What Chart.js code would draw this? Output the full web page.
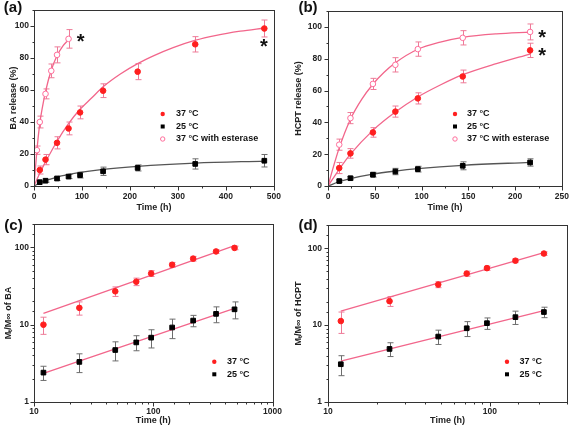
<!DOCTYPE html>
<html><head><meta charset="utf-8">
<script src="https://cdn.jsdelivr.net/npm/chart.js@4.4.0/dist/chart.umd.min.js"></script>
<style>
html,body{margin:0;padding:0;background:#fff;width:575px;height:429px;overflow:hidden}
canvas{position:absolute}
</style></head><body>
<canvas id="ca" width="287" height="214" style="left:0;top:0"></canvas>
<canvas id="cb" width="288" height="214" style="left:287px;top:0"></canvas>
<canvas id="cc" width="287" height="215" style="left:0;top:214px"></canvas>
<canvas id="cd" width="288" height="215" style="left:287px;top:214px"></canvas>
<script>
// ---------- data ----------
const legendLabels = ['37 °C', '25 °C', '37 °C with esterase'];
// BA release (panel a / c)
const timeBA = [12, 24, 48, 72, 96, 144, 216, 336, 480];
const baRel37 = [10, 16.5, 27, 36, 46, 59.6, 71.5, 88.6, 98.5];
const baErr37 = [2.5, 3.2, 3.8, 4, 4, 4.3, 5, 4.8, 5.3];
const baRel25 = [2.4, 3.3, 4.7, 5.9, 6.8, 9.2, 11.3, 13.8, 15.8];
const baErr25 = [0.5, 0.9, 1.3, 1.3, 1.8, 2.6, 1.9, 3.2, 3.9];
const timeBAEst = [6, 12, 24, 36, 48, 72];
const baRelEst = [22.4, 40, 57.6, 72, 82, 92];
const baErrEst = [2.6, 3.7, 3.1, 4.3, 5, 5.8];
// fitted curves, panel a
const fitBA37X = [0, 12, 24, 48, 72, 96, 120, 144, 180, 216, 250, 290, 335, 380, 430, 480];
const fitBA37Y = [0, 8, 15, 28, 39, 48, 55, 62, 70, 76.5, 81.5, 86.5, 91, 94.2, 96.8, 98.8];
const fitBA25X = [0, 12, 24, 48, 72, 96, 144, 216, 336, 480];
const fitBA25Y = [0, 1.8, 3.3, 5.6, 7.2, 8.5, 10.4, 12.3, 14.3, 15.6];
const fitBAEstX = [0, 6, 12, 18, 24, 36, 48, 60, 72];
const fitBAEstY = [0, 22, 39, 50, 59, 72.5, 81.5, 87.5, 91.5];
// HCPT release (panel b / d)
const timeH = [12, 24, 48, 72, 96, 144, 216];
const hRel37 = [11.3, 20.5, 33.7, 46.8, 55.1, 68.9, 85.3];
const hErr37 = [3.5, 3, 3, 3.5, 3.5, 4, 4.5];
const hRel25 = [3.1, 4.9, 7.1, 9.1, 10.6, 12.7, 14.8];
const hErr25 = [0.9, 1, 1.5, 2, 1.8, 2.5, 2.3];
const hRelEst = [26, 42.7, 64.2, 76.2, 86.1, 93.2, 96.9];
const hErrEst = [3.5, 3.5, 3.5, 4.5, 4.5, 4.5, 5];
const fitH37X = [0, 12, 24, 48, 72, 96, 120, 144, 180, 216];
const fitH37Y = [0, 10.5, 20, 35, 46.5, 56, 63.5, 70, 77, 83];
const fitH25X = [0, 12, 24, 48, 72, 96, 144, 216];
const fitH25Y = [0, 2.7, 4.7, 7.5, 9.4, 10.9, 13, 14.9];
const fitHEstX = [0, 6, 12, 24, 36, 48, 60, 72, 96, 120, 144, 180, 216];
const fitHEstY = [0, 12.5, 24, 42, 54.5, 64, 71.5, 77.5, 86, 90.5, 93.5, 95.7, 96.8];
// power-law fit lines (log-log), panels c and d
const fitLogBAX = [12, 480];
const fitLogBA37Y = [14, 105];
const fitLogBA25Y = [2.35, 16.3];
const fitLogHX = [12, 216];
const fitLogH37Y = [15.2, 88];
const fitLogH25Y = [3.4, 15.4];
// significance marks (*)
const starAX = [97, 479], starAY = [92.4, 89.3];
const starBX = [229, 229], starBY = [95.8, 84.5];

// ---------- styles ----------
const FONT = "'Liberation Sans', Arial, sans-serif";
const RED = '#ff1f1f', PINK = '#f2668b', PINKERR = '#ee7b98', OPEN = '#ff6e9b', GRAYLINE = '#555555', GRAYERR = '#6d6d6d', AX = '#333333';

const pts = (xs, ys) => xs.map((x, i) => ({x: x, y: ys[i]}));

function scatterSet(xs, ys, errs, kind) {
  const base = {data: pts(xs, ys), err: errs, showLine: false, borderWidth: 1};
  if (kind === 'red') return Object.assign(base, {pointStyle: 'circle', pointRadius: 2.8, backgroundColor: RED, borderColor: RED, errColor: PINKERR});
  if (kind === 'black') return Object.assign(base, {pointStyle: 'rect', pointRadius: 3.3, backgroundColor: '#000', borderColor: '#000', errColor: GRAYERR});
  return Object.assign(base, {pointStyle: 'circle', pointRadius: 2.8, backgroundColor: '#fff', borderColor: OPEN, errColor: PINKERR});
}
function fitSet(xs, ys, color) {
  return {type: 'line', data: pts(xs, ys), borderColor: color, borderWidth: 1.3, pointRadius: 0, fill: false, cubicInterpolationMode: 'monotone'};
}

const deco = {
  id: 'deco',
  beforeDatasetsDraw(chart) {
    const ctx = chart.ctx, ys = chart.scales.y;
    chart.data.datasets.forEach((ds, i) => {
      if (!ds.err) return;
      const meta = chart.getDatasetMeta(i);
      ctx.save(); ctx.strokeStyle = ds.errColor; ctx.lineWidth = 1;
      ds.data.forEach((p, j) => {
        const x = Math.round(meta.data[j].x) + 0.5, e = ds.err[j];
        const y1 = ys.getPixelForValue(p.y + e), y2 = ys.getPixelForValue(Math.max(p.y - e, 0.01));
        ctx.beginPath();
        ctx.moveTo(x, y1); ctx.lineTo(x, y2);
        ctx.moveTo(x - 3, y1); ctx.lineTo(x + 3, y1);
        ctx.moveTo(x - 3, y2); ctx.lineTo(x + 3, y2);
        ctx.stroke();
      });
      ctx.restore();
    });
  },
  afterDraw(chart) {
    const o = chart.options.plugins.deco, ctx = chart.ctx, a = chart.chartArea;
    const xs = chart.scales.x, ys = chart.scales.y;
    ctx.save();
    ctx.strokeStyle = AX; ctx.lineWidth = 1;
    const L = Math.round(a.left) + 0.5, R = Math.round(a.right) + 0.5, T = Math.round(a.top) + 0.5, B = Math.round(a.bottom) + 0.5;
    ctx.strokeRect(L, T, R - L, B - T);
    function tickList(scale) {
      const vals = scale.ticks.map(t => t.value);
      const out = [];
      if (scale.type === 'logarithmic') {
        vals.forEach(v => {
          const lg = Math.log10(v);
          out.push({v: v, major: Math.abs(lg - Math.round(lg)) < 1e-9});
        });
      } else {
        vals.forEach((v, i) => {
          out.push({v: v, major: true});
          const step = vals.length > 1 ? vals[1] - vals[0] : 0;
          const m = v + step / 2;
          if (step && m <= scale.max) out.push({v: m, major: false});
        });
      }
      return out;
    }
    ctx.beginPath();
    tickList(xs).forEach(t => {
      const px = Math.round(xs.getPixelForValue(t.v)) + 0.5;
      ctx.moveTo(px, B); ctx.lineTo(px, B + (t.major ? 4 : 2));
    });
    tickList(ys).forEach(t => {
      const py = Math.round(ys.getPixelForValue(t.v)) + 0.5;
      ctx.moveTo(L, py); ctx.lineTo(L - (t.major ? 4 : 2), py);
    });
    ctx.stroke();
    // legend
    const lg = o.legend;
    ctx.font = 'bold 9px ' + FONT; ctx.textBaseline = 'middle'; ctx.textAlign = 'left'; ctx.fillStyle = '#111';
    lg.rows.forEach((y, i) => {
      const kind = lg.kinds[i];
      if (kind === 'red') { ctx.fillStyle = RED; ctx.beginPath(); ctx.arc(lg.mx, y, 2.2, 0, Math.PI * 2); ctx.fill(); }
      else if (kind === 'black') { ctx.fillStyle = '#000'; ctx.fillRect(lg.mx - 2, y - 2, 4, 4); }
      else { ctx.strokeStyle = OPEN; ctx.lineWidth = 1; ctx.beginPath(); ctx.arc(lg.mx, y, 2.2, 0, Math.PI * 2); ctx.stroke(); }
      ctx.fillStyle = '#111';
      ctx.fillText(legendLabels[lg.labels[i]], lg.tx, y);
    });
    // stars
    if (o.stars) {
      ctx.font = 'bold 20px ' + FONT; ctx.textAlign = 'center'; ctx.textBaseline = 'alphabetic'; ctx.fillStyle = '#111';
      const m = ctx.measureText('*');
      o.stars.xs.forEach((sx, i) => {
        const px = xs.getPixelForValue(sx), py = ys.getPixelForValue(o.stars.ys[i]);
        ctx.fillText('*', px, py + (m.actualBoundingBoxAscent - m.actualBoundingBoxDescent) / 2);
      });
    }
    // panel label
    ctx.font = 'bold 15px ' + FONT; ctx.textAlign = 'center'; ctx.textBaseline = 'middle'; ctx.fillStyle = '#111';
    ctx.fillText(o.label.text, o.label.x, o.label.y);
    ctx.restore();
  }
};

function makeChart(id, c) {
  const tickFont = {family: FONT, size: 8.5, weight: 'bold'};
  const titleFont = {family: FONT, size: 9, weight: 'bold'};
  const logCb = v => { const l = Math.log10(v); return Math.abs(l - Math.round(l)) < 1e-9 ? String(v) : ''; };
  const xOpt = {
    type: c.xType, min: c.xMin, max: c.xMax,
    grid: {display: false, drawTicks: false, tickLength: 0}, border: {display: false},
    ticks: {font: tickFont, color: '#222', padding: c.xTickPad, autoSkip: false, maxRotation: 0, includeBounds: false},
    title: {display: true, text: 'Time (h)', font: titleFont, color: '#222', padding: {top: 0, bottom: c.xTitlePad}},
    afterFit: s => { s.height = c.xH; }
  };
  if (c.xType === 'linear') xOpt.ticks.stepSize = c.xStep; else xOpt.ticks.callback = logCb;
  const yOpt = {
    type: c.yType, min: c.yMin, max: c.yMax,
    grid: {display: false, drawTicks: false, tickLength: 0}, border: {display: false},
    ticks: {font: tickFont, color: '#222', padding: c.yTickPad, autoSkip: false, includeBounds: false},
    title: {display: true, text: c.yTitle, font: titleFont, color: '#222', padding: {top: c.yTitlePad, bottom: 0}},
    afterFit: s => { s.width = c.yW; }
  };
  if (c.yType === 'linear') yOpt.ticks.stepSize = 20; else yOpt.ticks.callback = logCb;
  return new Chart(document.getElementById(id), {
    type: 'scatter',
    data: {datasets: c.datasets},
    options: {
      responsive: false, animation: false, devicePixelRatio: 1,
      layout: {padding: c.pad},
      plugins: {legend: {display: false}, tooltip: {enabled: false}, deco: c.deco},
      scales: {x: xOpt, y: yOpt}
    },
    plugins: [deco]
  });
}

// (a)
makeChart('ca', {
  xType: 'linear', xMin: 0, xMax: 500, xStep: 100, yType: 'linear', yMin: 0, yMax: 110,
  yTitle: 'BA release (%)', pad: {left: 0, right: 13, top: 9, bottom: 0}, yW: 34, xH: 28,
  xTickPad: 6, yTickPad: 5, xTitlePad: 1, yTitlePad: 8,
  datasets: [
    scatterSet(timeBAEst, baRelEst, baErrEst, 'open'),
    scatterSet(timeBA, baRel37, baErr37, 'red'),
    scatterSet(timeBA, baRel25, baErr25, 'black'),
    fitSet(fitBAEstX, fitBAEstY, PINK),
    fitSet(fitBA37X, fitBA37Y, PINK),
    fitSet(fitBA25X, fitBA25Y, GRAYLINE)
  ],
  deco: {legend: {mx: 162.7, tx: 176, rows: [114, 126.5, 139], kinds: ['red', 'black', 'open'], labels: [0, 1, 2]},
         stars: {xs: starAX, ys: starAY}, label: {text: '(a)', x: 13, y: 8}}
});
// (b)
makeChart('cb', {
  xType: 'linear', xMin: 0, xMax: 250, xStep: 50, yType: 'linear', yMin: 0, yMax: 110,
  yTitle: 'HCPT release (%)', pad: {left: 0, right: 8, top: 9, bottom: 0}, yW: 41, xH: 28,
  xTickPad: 6, yTickPad: 6, xTitlePad: 1, yTitlePad: 6,
  datasets: [
    scatterSet(timeH, hRelEst, hErrEst, 'open'),
    scatterSet(timeH, hRel37, hErr37, 'red'),
    scatterSet(timeH, hRel25, hErr25, 'black'),
    fitSet(fitHEstX, fitHEstY, PINK),
    fitSet(fitH37X, fitH37Y, PINK),
    fitSet(fitH25X, fitH25Y, GRAYLINE)
  ],
  deco: {legend: {mx: 455 - 287, tx: 467 - 287, rows: [114, 126.5, 139], kinds: ['red', 'black', 'open'], labels: [0, 1, 2]},
         stars: {xs: starBX, ys: starBY}, label: {text: '(b)', x: 21, y: 8}}
});
// (c)
makeChart('cc', {
  xType: 'logarithmic', xMin: 10, xMax: 1000, yType: 'logarithmic', yMin: 1, yMax: 200,
  yTitle: 'Mₜ/M∞ of BA', pad: {left: 0, right: 13, top: 10, bottom: 0}, yW: 34, xH: 27,
  xTickPad: 5, yTickPad: 5, xTitlePad: 3, yTitlePad: 3,
  datasets: [
    scatterSet(timeBA, baRel37, baErr37, 'red'),
    scatterSet(timeBA, baRel25, baErr25, 'black'),
    fitSet(fitLogBAX, fitLogBA37Y, PINK),
    fitSet(fitLogBAX, fitLogBA25Y, PINK)
  ],
  deco: {legend: {mx: 214.3, tx: 227, rows: [361.7 - 214, 374.3 - 214], kinds: ['red', 'black'], labels: [0, 1]},
         label: {text: '(c)', x: 13.5, y: 12}}
});
// (d)
makeChart('cd', {
  xType: 'logarithmic', xMin: 10, xMax: 300, yType: 'logarithmic', yMin: 1, yMax: 200,
  yTitle: 'Mₜ/M∞ of HCPT', pad: {left: 0, right: 8, top: 10, bottom: 0}, yW: 41, xH: 27,
  xTickPad: 5, yTickPad: 6, xTitlePad: 3, yTitlePad: 6,
  datasets: [
    scatterSet(timeH, hRel37, hErr37, 'red'),
    scatterSet(timeH, hRel25, hErr25, 'black'),
    fitSet(fitLogHX, fitLogH37Y, PINK),
    fitSet(fitLogHX, fitLogH25Y, PINK)
  ],
  deco: {legend: {mx: 507 - 287, tx: 519.5 - 287, rows: [361.7 - 214, 374.3 - 214], kinds: ['red', 'black'], labels: [0, 1]},
         label: {text: '(d)', x: 21, y: 12}}
});
</script>
</body></html>
